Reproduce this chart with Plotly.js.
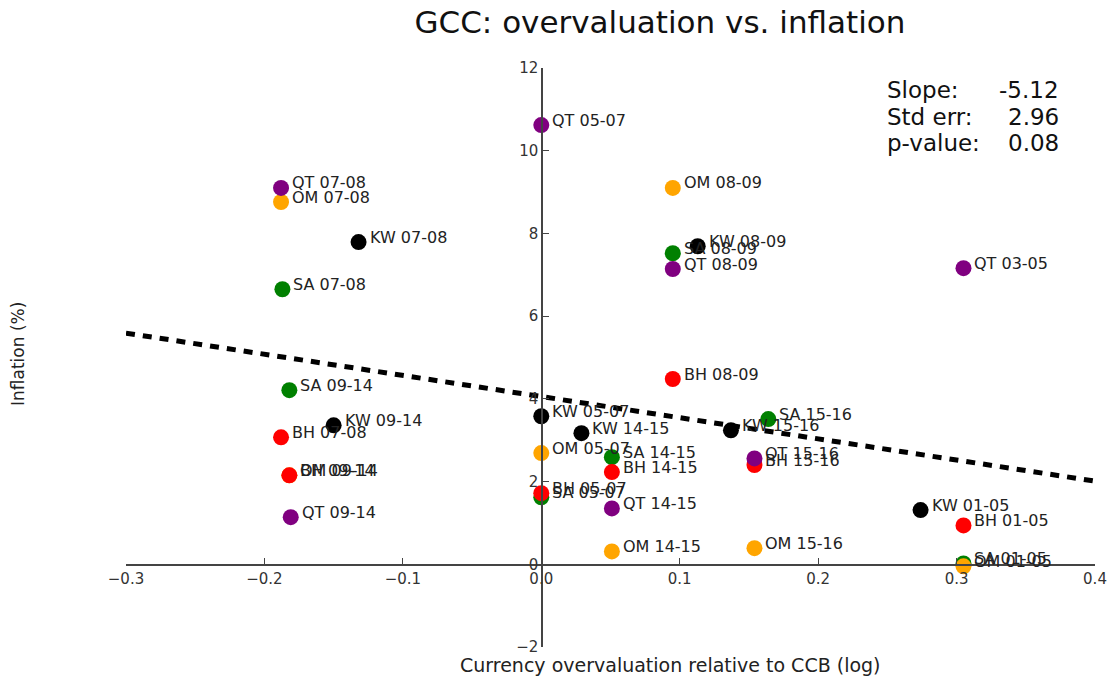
<!DOCTYPE html>
<html>
<head>
<meta charset="utf-8">
<script src="https://cdn.plot.ly/plotly-3.0.1.min.js"></script>
<style>html,body{margin:0;padding:0;background:#fff;}#chart{width:1109px;height:680px;}</style>
</head>
<body>
<div id="chart"></div>
<script>
// ---- data ----
const countries = ['SA', 'KW', 'OM', 'BH', 'QT'];
const countryColors = ['#008000', '#000000', '#FFA500', '#FF0000', '#800080'];

const saPeriods = ['07-08', '09-14', '08-09', '05-07', '14-15', '15-16', '01-05'];
const saX = [-0.187, -0.182, 0.095, 0.0, 0.051, 0.164, 0.305];
const saY = [6.65, 4.21, 7.52, 1.62, 2.59, 3.51, 0.02];

const kwPeriods = ['07-08', '09-14', '08-09', '05-07', '14-15', '15-16', '01-05'];
const kwX = [-0.132, -0.150, 0.113, 0.0, 0.029, 0.137, 0.274];
const kwY = [7.79, 3.36, 7.69, 3.58, 3.17, 3.24, 1.31];

const omPeriods = ['07-08', '09-14', '08-09', '05-07', '14-15', '15-16', '01-05'];
const omX = [-0.188, -0.182, 0.095, 0.0, 0.051, 0.154, 0.305];
const omY = [8.76, 2.15, 9.10, 2.69, 0.31, 0.39, -0.05];

const bhPeriods = ['07-08', '09-14', '08-09', '05-07', '14-15', '15-16', '01-05'];
const bhX = [-0.188, -0.182, 0.095, 0.0, 0.051, 0.154, 0.305];
const bhY = [3.07, 2.15, 4.48, 1.72, 2.23, 2.40, 0.94];

const qtPeriods = ['07-08', '09-14', '08-09', '05-07', '14-15', '15-16', '03-05'];
const qtX = [-0.188, -0.181, 0.095, 0.0, 0.051, 0.154, 0.305];
const qtY = [9.10, 1.14, 7.14, 10.62, 1.35, 2.56, 7.16];

const trendX = [-0.3, 0.4];
const trendY = [5.59, 2.01];

const statLabels = ['Slope:', 'Std err:', 'p-value:'];
const statValues = ['-5.12', '2.96', '0.08'];

const xTicks = [-0.3, -0.2, -0.1, 0.0, 0.1, 0.2, 0.3, 0.4];
const yTicks = [-2, 0, 2, 4, 6, 8, 10, 12];

// ---- build ----
const seriesX = [saX, kwX, omX, bhX, qtX];
const seriesY = [saY, kwY, omY, bhY, qtY];
const seriesP = [saPeriods, kwPeriods, omPeriods, bhPeriods, qtPeriods];

const FONT = 'DejaVu Sans, sans-serif';
const L = 126, R = 1095, T = 68, B = 647;
const px2x = px => (px - L) / (R - L);
const py2y = py => (B - py) / (B - T);

const traces = [{
  x: trendX, y: trendY, mode: 'lines', type: 'scatter',
  line: {color: '#000', width: 5, dash: '9px,8px'}, hoverinfo: 'skip', showlegend: false
}];
const annotations = [];
countries.forEach((c, i) => {
  traces.push({
    x: seriesX[i], y: seriesY[i], mode: 'markers', type: 'scatter', name: c,
    marker: {color: countryColors[i], size: 16, line: {width: 0}},
    showlegend: false
  });
  seriesP[i].forEach((p, j) => {
    annotations.push({
      x: seriesX[i][j], y: seriesY[i][j], xref: 'x', yref: 'y',
      text: c + ' ' + p, showarrow: false, xanchor: 'left', yanchor: 'middle',
      xshift: 9, yshift: 5, font: {family: FONT, size: 16, color: '#222'}
    });
  });
});
statLabels.forEach((s, k) => {
  annotations.push({x: px2x(885), y: py2y(90 + k * 26.5), xref: 'paper', yref: 'paper',
    text: s, showarrow: false, xanchor: 'left', yanchor: 'middle',
    font: {family: FONT, size: 23, color: '#111'}});
  annotations.push({x: px2x(1061), y: py2y(90 + k * 26.5), xref: 'paper', yref: 'paper',
    text: statValues[k], showarrow: false, xanchor: 'right', yanchor: 'middle',
    font: {family: FONT, size: 23, color: '#111'}});
});
annotations.push({x: px2x(670), y: py2y(665), xref: 'paper', yref: 'paper',
  text: 'Currency overvaluation relative to CCB (log)',
  showarrow: false, xanchor: 'center', yanchor: 'middle', font: {family: FONT, size: 19, color: '#222'}});
annotations.push({x: px2x(18), y: py2y(354), xref: 'paper', yref: 'paper', text: 'Inflation (%)', textangle: -90,
  showarrow: false, xanchor: 'center', yanchor: 'middle', font: {family: FONT, size: 17, color: '#222'}});

const layout = {
  width: 1109, height: 680,
  margin: {l: L, r: 1109 - R, t: T, b: 680 - B},
  paper_bgcolor: '#fff', plot_bgcolor: '#fff',
  title: {text: 'GCC: overvaluation vs. inflation', x: 660 / 1109, xref: 'container', xanchor: 'center',
    y: 1 - 22 / 680, yref: 'container', yanchor: 'middle', font: {family: FONT, size: 31, color: '#111'}},
  xaxis: {range: [-0.3, 0.4], tickvals: xTicks, tickformat: '.1f', anchor: 'free',
    position: (B - 564) / (B - T), showgrid: false, zeroline: false, showline: true,
    linecolor: '#444', linewidth: 1.5, ticks: 'inside', ticklen: 6, tickcolor: '#444',
    tickfont: {family: FONT, size: 15, color: '#333'}},
  yaxis: {range: [-2, 12], tickvals: yTicks, anchor: 'free',
    position: 0.3 / 0.7, showgrid: false, zeroline: false, showline: true,
    linecolor: '#444', linewidth: 1.5, ticks: 'inside', ticklen: 6, tickcolor: '#444',
    tickfont: {family: FONT, size: 15, color: '#333'}},
  annotations: annotations,
  showlegend: false
};
Plotly.newPlot('chart', traces, layout, {displayModeBar: false, staticPlot: true});
</script>
</body>
</html>
